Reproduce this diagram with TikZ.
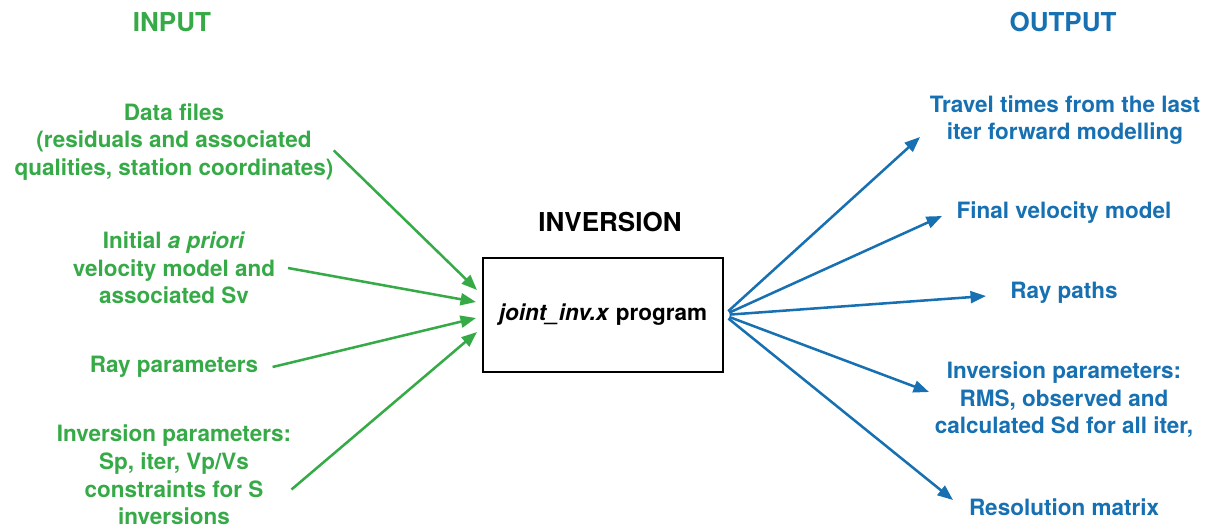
\documentclass[tikz,border=0pt]{standalone}
\usepackage{fontspec}
\setmainfont{TeX Gyre Heros}
\usetikzlibrary{arrows.meta, positioning}
\definecolor{ingreen}{RGB}{55,170,72}
\definecolor{outblue}{RGB}{22,112,178}
\tikzset{
  ttl/.style = {font=\fontsize{18.5}{22}\selectfont\bfseries, inner sep=0pt},
  inl/.style = {text=ingreen, font=\fontsize{16}{19.6}\selectfont\bfseries,
    align=center, inner sep=0pt},
  outl/.style = {inl, text=outblue},
  prg/.style = {draw=black, line width=1.4pt, minimum width=6cm,
    minimum height=2.87cm, font=\fontsize{16}{19}\selectfont\bfseries},
  inarr/.style = {-{Triangle[length=11pt,width=8.5pt]}, draw=ingreen,
    line width=1.8pt},
  outarr/.style = {-{Triangle[length=11pt,width=8.5pt]}, draw=outblue,
    line width=1.8pt}
}

\begin{document}
\begin{tikzpicture}[x=0.025cm, y=-0.025cm]
  \useasboundingbox (0,0) rectangle (1215,529);
  % titles
  \node [ttl, text=ingreen] (tin) at (172,22) {INPUT};
  \node [ttl, text=outblue] (tout) at (1063,22) {OUTPUT};
  \node [ttl] (tinv) at (610,222) {INVERSION};
  \node [prg] (prog) at (603,315) {\textit{joint\_inv.x} program};
  % inputs
  \node [inl] (data) at (174,142) {Data files\\(residuals and associated\\qualities, station coordinates)};
  \node [inl] (init) at (174,268) {Initial \textit{a priori}\\velocity model and\\associated Sv};
  \node [inl] (ray) at (174,367) {Ray parameters};
  \node [inl] (par) at (174,475) {Inversion parameters:\\Sp, iter, Vp/Vs\\constraints for S\\inversions};
  \coordinate (i1) at (477,290);
  \coordinate (i2) at (476,302);
  \coordinate (i3) at (476,318);
  \coordinate (i4) at (477,332);
  \draw [inarr] (data.-3) -- (i1);
  \draw [inarr] ([xshift=9pt]init.east) -- (i2);
  \draw [inarr] ([xshift=10pt]ray.east) -- (i3);
  \draw [inarr] ([yshift=-3pt]par.-5) -- (i4);
  % outputs
  \node [outl] (trav) at (1065,120) {Travel times from the last\\iter forward modelling};
  \node [outl] (fin) at (1064,213) {Final velocity model};
  \node [outl] (rp) at (1064,293) {Ray paths};
  \node [outl] (ipar) at (1064,400) {Inversion parameters:\\RMS, observed and\\calculated Sd for all iter,};
  \node [outl] (res) at (1064,507) {Resolution matrix};
  \coordinate (o1) at (920,137);
  \coordinate (o2) at (942,216);
  \coordinate (o3) at (986,296);
  \coordinate (o4) at (929,392);
  \coordinate (o5) at (953,500);
  \foreach \o in {o1, o2, o3, o4, o5}
    \draw [outarr, shorten <=4pt] (prog.east) -- (\o);
\end{tikzpicture}
\end{document}
